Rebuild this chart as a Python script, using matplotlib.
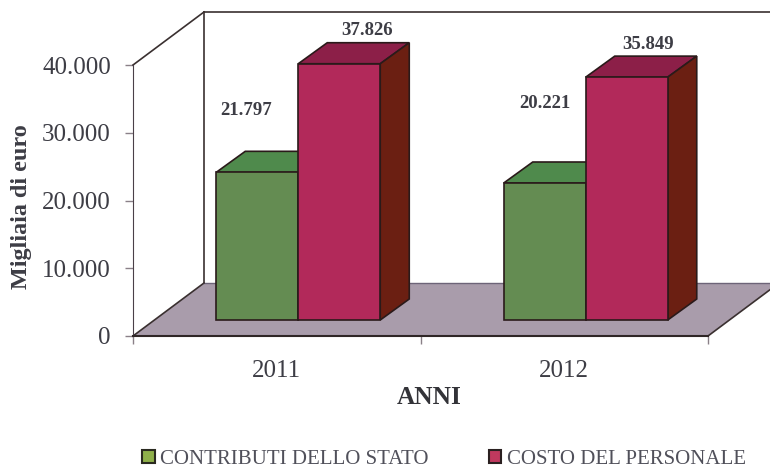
import matplotlib
matplotlib.use("Agg")
import matplotlib.pyplot as plt
from matplotlib.patches import Polygon, Patch

plt.rcParams.update({"font.family": ["Liberation Serif", "DejaVu Serif"]})

years = ["2011", "2012"]
contributi = [21797, 20221]
personale = [37826, 35849]
value_labels_c = ["21.797", "20.221"]
value_labels_p = ["37.826", "35.849"]
yticks = [0, 10000, 20000, 30000, 40000]
ytick_labels = ["0", "10.000", "20.000", "30.000", "40.000"]
series_names = ["CONTRIBUTI DELLO STATO", "COSTO DEL PERSONALE"]

W, H = 770, 468
# axes box in pixels
L, R, T, B = 133, 708, 65, 336
XU = (R - L) / 2.0       # pixels per category
YU = (B - T) / 40000.0   # pixels per euro thousand

# depth, in pixels
FLOOR_DX, FLOOR_DY = 71, 53
BAR_OFF_X, BAR_OFF_Y = 21.5, 16
BAR_DX, BAR_DY = 29, 21
BAR_W = 82

EDGE = "#2a1a1a"
TXT = "#3d3d45"


def px(dx, dy):
    """pixel offset -> data offset"""
    return dx / XU, dy / YU


def box(ax, x0, x1, value, front, top, side):
    """one oblique bar, x0/x1 in category units"""
    ox, oy = px(BAR_OFF_X, BAR_OFF_Y)
    dx, dy = px(BAR_DX, BAR_DY)
    a, b, y0, y1 = x0 + ox, x1 + ox, oy, oy + value
    kw = dict(edgecolor=EDGE, linewidth=1.2, clip_on=False, zorder=3)
    ax.add_patch(Polygon([(a, y1), (b, y1), (b + dx, y1 + dy), (a + dx, y1 + dy)], facecolor=top, **kw))
    ax.add_patch(Polygon([(b, y0), (b + dx, y0 + dy), (b + dx, y1 + dy), (b, y1)], facecolor=side, **kw))
    ax.add_patch(Polygon([(a, y0), (b, y0), (b, y1), (a, y1)], facecolor=front, **kw))


fig = plt.figure(figsize=(W / 100, H / 100), dpi=100)
ax = fig.add_axes([L / W, 1 - B / H, (R - L) / W, (B - T) / H])
ax.set_xlim(0, 2)
ax.set_ylim(0, 40000)

fdx, fdy = px(FLOOR_DX, FLOOR_DY)
wall_end = 2 + fdx
# floor
ax.add_patch(Polygon([(0, 0), (2, 0), (wall_end, fdy), (fdx, fdy)], facecolor="#a99cab",
                     edgecolor="none", clip_on=False, zorder=1))
line = dict(color="#3a3030", linewidth=1.2, clip_on=False, zorder=2)
ax.plot([0, fdx], [0, fdy], **line)
ax.plot([2, wall_end], [0, fdy], **line)
ax.plot([fdx, wall_end], [fdy, fdy], color="#6d6478", linewidth=1.0, clip_on=False, zorder=2)
# walls
ax.plot([0, fdx], [40000, 40000 + fdy], **line)
ax.plot([fdx, fdx], [fdy, 40000 + fdy], **line)
ax.plot([fdx, wall_end], [40000 + fdy, 40000 + fdy], **line)

bw = BAR_W / XU
for i in range(len(years)):
    c = i + 0.5
    box(ax, c - bw, c, contributi[i], "#648c52", "#4f8a4c", "#4f8a4c")
    box(ax, c, c + bw, personale[i], "#b2295a", "#8c1f48", "#6b1f12")

# value labels sit at their spot above each bar
label_off_c = [(-11, 62), (0, 80)]
label_off_p = [(28, 33), (21, 33)]
ox, oy = px(BAR_OFF_X, BAR_OFF_Y)
for i in range(len(years)):
    c = i + 0.5
    ax.annotate(value_labels_c[i], (c + ox - bw / 2, oy + contributi[i]),
                xytext=label_off_c[i], textcoords="offset pixels", ha="center", va="center",
                fontsize=13.5, fontweight="bold", color=TXT, annotation_clip=False, zorder=4)
    ax.annotate(value_labels_p[i], (c + ox + bw / 2, oy + personale[i]),
                xytext=label_off_p[i], textcoords="offset pixels", ha="center", va="center",
                fontsize=13.5, fontweight="bold", color=TXT, annotation_clip=False, zorder=4)

for s in ["top", "right"]:
    ax.spines[s].set_visible(False)
ax.spines["left"].set_color("#4a4048")
ax.spines["bottom"].set_color("#2f2626")
ax.spines["bottom"].set_linewidth(1.5)
ax.set_yticks(yticks)
ax.set_yticklabels(ytick_labels, fontsize=18, color=TXT)
ax.set_xticks([0, 1, 2])
ax.set_xticklabels([])
ax.set_xticks([0.5, 1.5], minor=True)
ax.set_xticklabels(years, minor=True, fontsize=18, color=TXT)
ax.tick_params(axis="x", which="minor", length=0, pad=17)
ax.tick_params(axis="both", which="major", length=6, color="#8a8088", width=1.0)
ax.tick_params(axis="y", pad=10)

fig.text(22 / W, 1 - 207 / H, "Migliaia di euro", rotation=90, ha="center", va="center",
         fontsize=17.4, fontweight="bold", color=TXT)
fig.text(429 / W, 1 - 397 / H, "ANNI", ha="center", va="center",
         fontsize=18.3, fontweight="bold", color="#333338")

handles = [Patch(facecolor="#8fb04a", edgecolor="#2a2a20", linewidth=1.5),
           Patch(facecolor="#c0395e", edgecolor="#2a2020", linewidth=1.5)]
fig.legend(handles, series_names, ncol=2, loc="center", bbox_to_anchor=(444 / W, 1 - 459 / H),
           frameon=False, fontsize=15, labelcolor="#50505a", handlelength=0.6, handleheight=0.6,
           handletextpad=0.25, columnspacing=2.9, borderpad=0)

fig.savefig("out.png", dpi=100)
